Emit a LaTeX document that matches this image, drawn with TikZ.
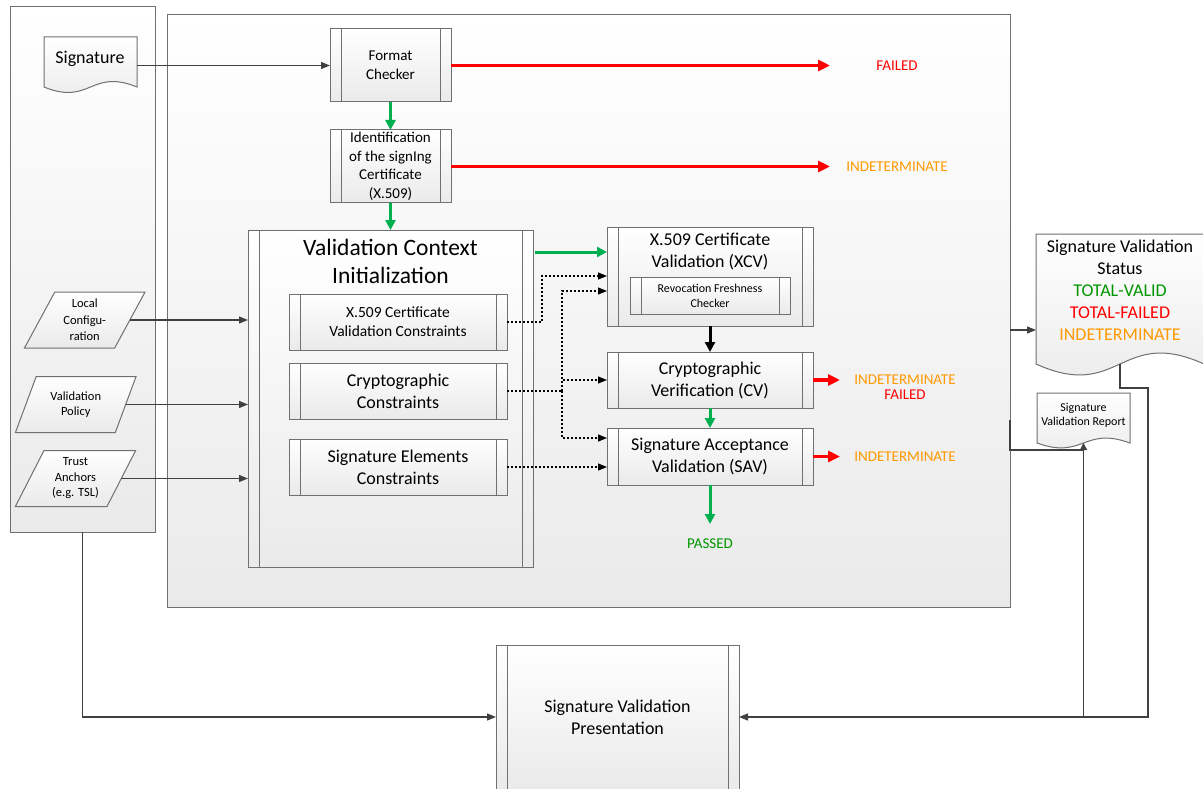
\documentclass[tikz,border=0pt]{standalone}
\usepackage{fontspec}
\setmainfont{Carlito}
\usetikzlibrary{arrows.meta,shapes.geometric,calc}
\definecolor{bordergray}{RGB}{112,112,112}
\definecolor{conngray}{RGB}{64,64,64}
\definecolor{arrred}{RGB}{255,0,0}
\definecolor{arrgreen}{RGB}{0,176,80}
\definecolor{txtgreen}{RGB}{0,150,0}
\definecolor{txtorange}{RGB}{255,153,0}
\definecolor{shadebot}{RGB}{234,234,234}
\newcommand{\myfs}[2]{\fontsize{#1}{#2}\selectfont}
\tikzset{
  panel/.style={draw=bordergray, line width=1pt, top color=white, bottom color=shadebot,
    inner sep=0pt, outer sep=0pt, anchor=north west},
  procbox/.style={draw=bordergray, line width=1pt, top color=white, bottom color=shadebot,
    inner sep=0pt, outer sep=0pt, align=center, anchor=north west,
    path picture={
      \draw[bordergray, line width=1pt] ([xshift=11pt]path picture bounding box.north west) -- ([xshift=11pt]path picture bounding box.south west);
      \draw[bordergray, line width=1pt] ([xshift=-11pt]path picture bounding box.north east) -- ([xshift=-11pt]path picture bounding box.south east);}},
  holder/.style={inner sep=0pt, outer sep=0pt, anchor=north west},
  docshape/.style={draw=bordergray, line width=1pt, top color=white, bottom color=shadebot},
  para/.style={trapezium, trapezium left angle=62.6, trapezium right angle=117.4,
    trapezium stretches=true, minimum width=121pt, minimum height=56pt,
    draw=bordergray, line width=1pt, top color=white, bottom color=shadebot,
    inner sep=0pt, outer sep=0pt, align=center},
  lbl/.style={inner sep=0pt, align=center},
  redarr/.style={draw=arrred, line width=3.5pt, -{Triangle[length=12pt,width=11pt]}},
  greenarr/.style={draw=arrgreen, line width=3pt, -{Triangle[length=10pt,width=10pt]}},
  blackarr/.style={draw=black, line width=3pt, -{Triangle[length=10pt,width=10pt]}},
  conn/.style={draw=conngray, line width=1.2pt, -{Triangle[length=9pt,width=7pt]}},
  connshort/.style={draw=conngray, line width=1.2pt, -{Triangle[length=7pt,width=7pt]}},
  plainline/.style={draw=conngray, line width=1.2pt},
  dotarr/.style={draw=black, line width=1.2pt, dash pattern=on 2pt off 2pt, -{Triangle[length=9pt,width=7pt]}},
  dotline/.style={draw=black, line width=1.2pt, dash pattern=on 2pt off 2pt}
}
\begin{document}
\begin{tikzpicture}[x=1pt,y=-1pt]
\useasboundingbox (0,0) rectangle (1203,789);
\clip (0,0) rectangle (1203,789);
\fill[white] (0,0) rectangle (1203,789);

% panels
\node[panel, minimum width=145pt, minimum height=525pt] (lp) at (10,7) {};
\node[panel, minimum width=843pt, minimum height=592pt] (main) at (167,15) {};

% signature document
\node[holder, minimum width=93pt, minimum height=50pt] (sig) at (44,37) {};
\path[docshape] (sig.south west) -- (sig.north west) -- (sig.north east) -- (sig.south east)
  .. controls ($(sig.south)+(0,-19)$) and ($(sig.south)+(0,19)$) .. (sig.south west) -- cycle;
\node[lbl, font=\myfs{18}{22}] (sigt) at (90,59) {Signature};

% parallelograms
\node[para, font=\myfs{12.5}{16.5}] (lc) at (84.75,320) {Local\\Configu-\\ration};
\node[para, font=\myfs{12.5}{15}] (vp) at (75.75,404.5) {Validation\\Policy};
\node[para, font=\myfs{12.5}{15.5}] (ta) at (75.5,478.5) {Trust\\Anchors\\(e.g. TSL)};

% process boxes
\node[procbox, minimum width=121pt, minimum height=73pt, font=\myfs{15}{19}] (fc) at (330,29) {Format\\Checker};
\node[procbox, minimum width=121pt, minimum height=73pt, font=\myfs{15}{18.5}] (id) at (330,130) {Identification\\of the signIng\\Certificate\\(X.509)};
\node[procbox, minimum width=285pt, minimum height=337pt] (vci) at (248,230) {};
\node[lbl, font=\myfs{23.5}{28}] (vcit) at (390.5,261) {Validation Context\\Initialization};
\node[procbox, minimum width=218pt, minimum height=56pt, font=\myfs{15.5}{19}] (x509c) at (289,294) {X.509 Certificate\\Validation Constraints};
\node[procbox, minimum width=218pt, minimum height=56pt, font=\myfs{18}{22}] (cc) at (289,363) {Cryptographic\\Constraints};
\node[procbox, minimum width=218pt, minimum height=56pt, font=\myfs{18}{22}] (se) at (289,439) {Signature Elements\\Constraints};

\node[procbox, minimum width=206pt, minimum height=99pt] (xcv) at (607,227) {};
\node[lbl, font=\myfs{18}{22}] (xcvt) at (710,252) {X.509 Certificate\\Validation (XCV)};
\node[procbox, minimum width=160pt, minimum height=37pt, font=\myfs{12}{15}] (rfc) at (630,277) {Revocation Freshness\\Checker};
\node[procbox, minimum width=206pt, minimum height=56pt, font=\myfs{18}{22}] (cv) at (607,352) {Cryptographic\\Verification (CV)};
\node[procbox, minimum width=206pt, minimum height=57pt, font=\myfs{18}{22}] (sav) at (607,428) {Signature Acceptance\\Validation (SAV)};

\node[procbox, minimum width=243pt, minimum height=144pt, font=\myfs{18}{22}] (svp) at (496,645) {Signature Validation\\Presentation};

% status document
\node[holder, minimum width=168pt, minimum height=130pt] (status) at (1036,234) {};
\path[docshape] (status.south west) -- (status.north west) -- (status.north east) -- (status.south east)
  .. controls ($(status.south)+(0,-38)$) and ($(status.south)+(0,38)$) .. (status.south west) -- cycle;
\node[lbl, font=\myfs{18}{22}] (statust) at (1120,290.5) {Signature Validation\\Status\\\textcolor{txtgreen}{TOTAL-VALID}\\\textcolor{arrred}{TOTAL-FAILED}\\\textcolor{txtorange}{INDETERMINATE}};

% report document
\node[holder, minimum width=93pt, minimum height=50pt] (report) at (1037,393) {};
\path[docshape] (report.south west) -- (report.north west) -- (report.north east) -- (report.south east)
  .. controls ($(report.south)+(0,-17)$) and ($(report.south)+(0,17)$) .. (report.south west) -- cycle;
\node[lbl, font=\myfs{12}{14}] (reportt) at (1083.5,415) {Signature\\Validation Report};

% outcome labels
\node[lbl, font=\myfs{15}{18}, text=arrred] (failed1) at (897,66) {FAILED};
\node[lbl, font=\myfs{15}{18}, text=txtorange] (indet1) at (897,167) {INDETERMINATE};
\node[lbl, font=\myfs{15}{15}] (cvout) at (905,387.5) {\textcolor{txtorange}{INDETERMINATE}\\\textcolor{arrred}{FAILED}};
\node[lbl, font=\myfs{15}{18}, text=txtorange] (savout) at (905,457) {INDETERMINATE};
\node[lbl, font=\myfs{15}{18}, text=txtgreen] (passed) at (710,544) {PASSED};

% free ends
\coordinate (e1) at (830,66);
\coordinate (e3) at (840,380);
\coordinate (pa) at (710,524);
\coordinate (r1) at (1148,388);

% connectors
\draw[conn] (sig.east |- fc.west) -- (fc.west);
\draw[redarr] (fc.east) -- (fc.east -| e1);
\draw[greenarr] (fc.south) -- (id.north);
\draw[redarr] (id.east) -- (id.east -| e1);
\draw[greenarr] (id.south) -- (vci.north);
\coordinate (g1) at ([xshift=2pt,yshift=-22pt]vci.north east);
\draw[greenarr] (g1) -- (g1 -| xcv.west);

\draw[dotarr] (x509c.east) -- ++(35,0) |- (xcv.west |- 0,276);
\draw[dotline] (cc.east) -- ++(55,0) coordinate (jct);
\draw[dotarr] (jct) |- (xcv.west |- 0,291);
\draw[dotarr] (jct) |- (cv.west);
\draw[dotarr] (jct) |- (sav.west |- 0,438);
\draw[dotarr] (se.east) -- (se.east -| sav.west);

\draw[blackarr] (xcv.south) -- (cv.north);
\draw[greenarr] (cv.south) -- (sav.north);
\draw[greenarr] (sav.south) -- (pa);
\draw[redarr] (cv.east) -- (cv.east -| e3);
\draw[redarr] (sav.east) -- (sav.east -| e3);

\draw[conn] (lc.east) -- (lc.east -| vci.west);
\draw[conn] (vp.east) -- (vp.east -| vci.west);
\draw[conn] (ta.east) -- (ta.east -| vci.west);

\draw[conn] (lp.south) -- (lp.south |- svp.west) -- (svp.west);

\draw[conn] (main.east |- 0,330) -- (status.west |- 0,330);
\draw[connshort] (main.east |- 0,420) -- (main.east |- 0,450) -- (report.south |- 0,450) -- (report.south);
\draw[plainline] (report.south |- 0,450) -- (report.south |- svp.east);
\draw[conn] (status.south) -- (status.south |- r1) -- (r1) -- (r1 |- svp.east) -- (svp.east);
\end{tikzpicture}
\end{document}
